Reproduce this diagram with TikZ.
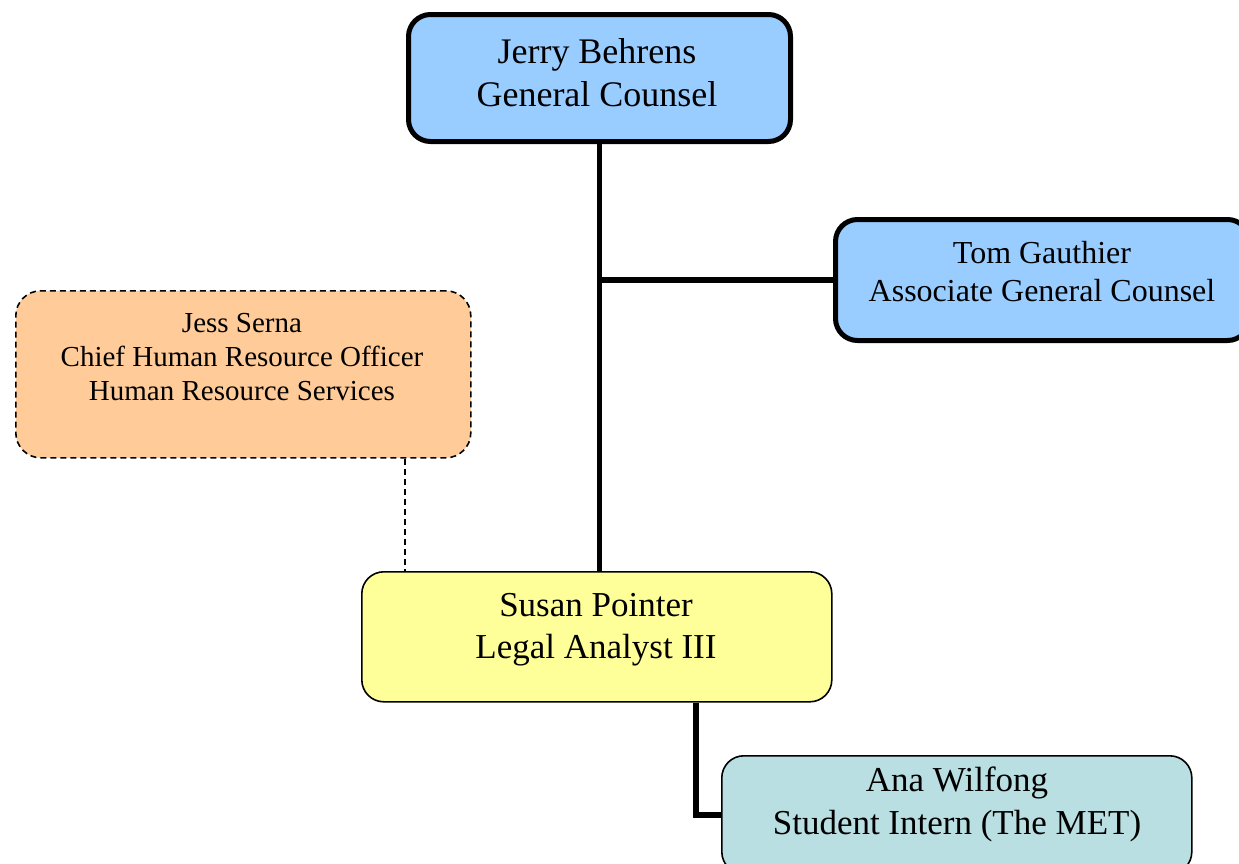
\documentclass[tikz,border=0pt]{standalone}
\usepackage{fontspec}
\setmainfont{Liberation Serif}
\definecolor{cblue}{HTML}{99CCFF}
\definecolor{cpeach}{HTML}{FFCC99}
\definecolor{cyellow}{HTML}{FFFF99}
\definecolor{cteal}{HTML}{B9DFE2}
\begin{document}
\begin{tikzpicture}[x=1pt,y=-1pt,
  boxthick/.style={draw=black, line width=5pt, rounded corners=22pt, anchor=north west, inner sep=0pt},
  boxthin/.style={draw=black, line width=1.6pt, rounded corners=22pt, anchor=north west, inner sep=0pt},
  boxdash/.style={draw=black, line width=1.6pt, dash pattern=on 6pt off 4pt, rounded corners=25pt, anchor=north west, inner sep=0pt},
  conn/.style={draw=black, line width=5.5pt},
  dashline/.style={draw=black, line width=1.6pt, dash pattern=on 6pt off 4pt},
  lbl/.style={align=center, inner sep=0pt, text=black}]
\path[use as bounding box] (0,0) rectangle (1239,863);

\coordinate (dx) at (405,0);
\coordinate (ax) at (696,0);

\node[boxthick, fill=cblue, minimum width=382pt, minimum height=127pt] (jerry) at (406,12) {};
\node[boxthick, fill=cblue, minimum width=414pt, minimum height=121pt] (tom) at (833,217) {};
\node[boxdash, fill=cpeach, minimum width=455pt, minimum height=167pt] (jess) at (15,290) {};
\node[boxthin, fill=cyellow, minimum width=470pt, minimum height=130pt] (susan) at (361,571) {};
\node[boxthin, fill=cteal, minimum width=470pt, minimum height=118pt] (ana) at (721,755) {};

\draw[conn] (jerry.south) -- (jerry.south |- susan.north);
\draw[conn] (jerry.south |- tom.west) -- (tom.west);
\draw[dashline] (jess.south -| dx) -- (susan.north -| dx);
\draw[conn] (susan.south -| ax) |- (ana.west);

\node[lbl, font=\fontsize{36}{43}\selectfont] (jerryt) at (597,73) {Jerry Behrens\\General Counsel};
\node[lbl, font=\fontsize{32}{38}\selectfont] (tomt) at (1042,272) {Tom Gauthier\\Associate General Counsel};
\node[lbl, font=\fontsize{29}{34}\selectfont] (jesst) at (242,357) {Jess Serna\\Chief Human Resource Officer\\Human Resource Services};
\node[lbl, font=\fontsize{35}{42}\selectfont] (susant) at (596,630) {Susan Pointer\\Legal Analyst III};
\node[lbl, font=\fontsize{35}{43}\selectfont] (anat) at (957,804) {Ana Wilfong\\Student Intern (The MET)};
\end{tikzpicture}
\end{document}
